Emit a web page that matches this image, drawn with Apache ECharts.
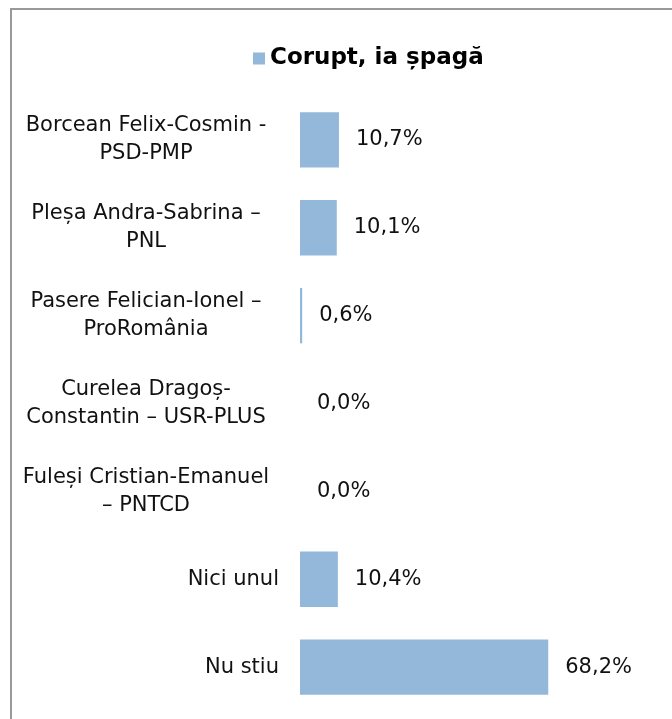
<!DOCTYPE html>
<html>
<head>
<meta charset="utf-8">
<script src="https://cdn.jsdelivr.net/npm/echarts@6/dist/echarts.min.js"></script>
<style>
  html, body { margin: 0; padding: 0; background: #fff; }
  #chart { width: 672px; height: 719px; }
</style>
</head>
<body>
<div id="chart"></div>
<script>
  // categories, top to bottom
  var categories = [
    'Borcean Felix-Cosmin -\nPSD-PMP',
    'Pleșa Andra-Sabrina –\nPNL',
    'Pasere Felician-Ionel –\nProRomânia',
    'Curelea Dragoș-\nConstantin – USR-PLUS',
    'Fuleși Cristian-Emanuel\n– PNTCD',
    'Nici unul',
    'Nu stiu'
  ];
  var values = [10.7, 10.1, 0.6, 0.0, 0.0, 10.4, 68.2];
  var seriesName = 'Corupt, ia șpagă';

  var font = 'DejaVu Sans';

  var chart = echarts.init(document.getElementById('chart'));
  chart.setOption({
    animation: false,
    textStyle: { fontFamily: font },
    graphic: [{
      type: 'rect',
      shape: { x: 11, y: 9, width: 700, height: 750 },
      style: { fill: 'none', stroke: '#999', lineWidth: 2 },
      silent: true
    }],
    legend: {
      data: [seriesName],
      left: 248,
      top: 42,
      itemWidth: 12,
      itemHeight: 12,
      itemGap: 8,
      icon: 'rect',
      textStyle: { fontFamily: font, fontSize: 23, fontWeight: 'bold', color: '#000' }
    },
    grid: { left: 300, right: 8, top: 96, bottom: 8, containLabel: false },
    xAxis: {
      type: 'value',
      min: 0,
      max: 100,
      show: false
    },
    yAxis: {
      type: 'category',
      inverse: true,
      data: categories,
      axisLine: { show: false },
      axisTick: { show: false },
      axisLabel: {
        margin: 21,
        fontFamily: font,
        fontSize: 21,
        color: '#111',
        lineHeight: 28,
        formatter: function (v) {
          if (v.indexOf('\n') < 0) return v;
          return v.split('\n').map(function (s) { return '{c|' + s + '}'; }).join('\n');
        },
        rich: {
          c: { width: 266, align: 'center', fontFamily: font, fontSize: 21, lineHeight: 28, color: '#111' }
        }
      }
    },
    series: [{
      name: seriesName,
      type: 'bar',
      data: values,
      barCategoryGap: '37%',
      itemStyle: { color: '#93b8d9' },
      label: {
        show: true,
        position: 'right',
        distance: 17,
        fontFamily: font,
        fontSize: 21,
        color: '#111',
        formatter: function (p) { return p.value.toFixed(1).replace('.', ',') + '%'; }
      }
    }]
  });
</script>
</body>
</html>
